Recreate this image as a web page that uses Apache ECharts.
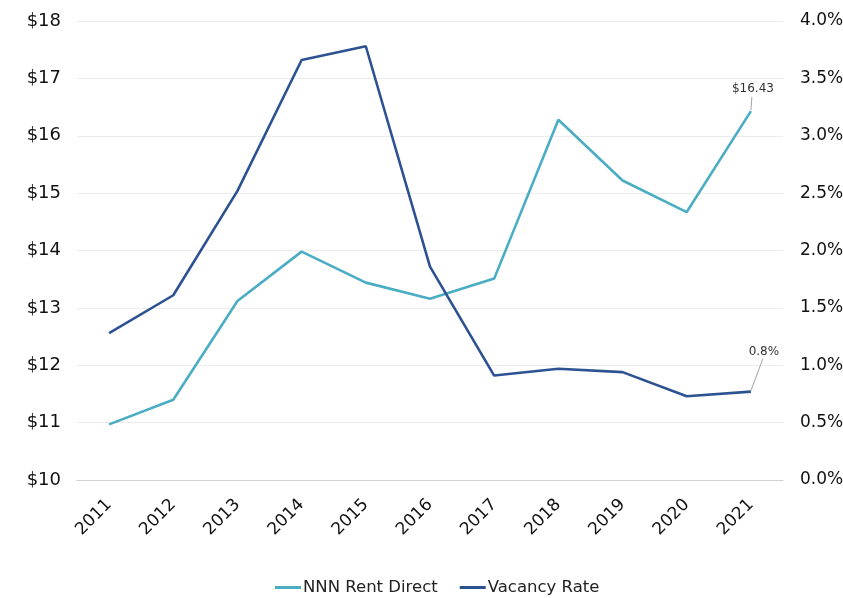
<!DOCTYPE html>
<html>
<head>
<meta charset="utf-8">
<script src="https://cdn.jsdelivr.net/npm/echarts@6/dist/echarts.min.js"></script>
<style>
  html, body { margin: 0; padding: 0; background: #fff; }
  #chart { width: 843px; height: 598px; }
</style>
</head>
<body>
<div id="chart"></div>
<script>
// Annual NNN direct rent ($/SF) and vacancy rate (%)
const years = ['2011', '2012', '2013', '2014', '2015', '2016', '2017', '2018', '2019', '2020', '2021'];
const rentDirect = [10.97, 11.40, 13.12, 13.98, 13.44, 13.16, 13.51, 16.28, 15.22, 14.67, 16.43];
const vacancyRate = [1.28, 1.61, 2.52, 3.66, 3.78, 1.86, 0.91, 0.97, 0.94, 0.73, 0.77];

const fontFamily = '"DejaVu Sans", "Liberation Sans", Arial, sans-serif';
const rentColor = '#4AADC4';
const vacancyColor = '#2C5292';
const lastIdx = years.length - 1;

const chart = echarts.init(document.getElementById('chart'), null, { renderer: 'canvas' });

chart.setOption({
  animation: false,
  textStyle: { fontFamily: fontFamily },
  grid: { left: 77, right: 60, top: 21, bottom: 118, containLabel: false, outerBoundsMode: 'none' },
  legend: {
    top: 574,
    left: 270,
    itemGap: 22,
    itemWidth: 26,
    itemHeight: 3,
    icon: 'rect',
    textStyle: { fontSize: 16.5, color: '#222', fontFamily: fontFamily, padding: [0, 0, 0, -3] },
    data: ['NNN Rent Direct', 'Vacancy Rate']
  },
  xAxis: {
    type: 'category',
    data: years,
    boundaryGap: true,
    axisLine: { show: true, lineStyle: { color: '#d0d0d0', width: 1 } },
    axisTick: { show: false },
    axisLabel: { rotate: 45, fontSize: 17, color: '#111', margin: 22 }
  },
  yAxis: [
    {
      type: 'value',
      min: 10, max: 18, interval: 1,
      axisLine: { show: false },
      axisTick: { show: false },
      splitLine: { lineStyle: { color: '#ececec', width: 1 } },
      axisLabel: { fontSize: 18, color: '#111', margin: 16, formatter: v => '$' + v }
    },
    {
      type: 'value',
      min: 0, max: 4, interval: 0.5,
      axisLine: { show: false },
      axisTick: { show: false },
      splitLine: { show: false },
      axisLabel: { fontSize: 17, color: '#111', margin: 17, formatter: v => v.toFixed(1) + '%' }
    }
  ],
  series: [
    {
      name: 'NNN Rent Direct',
      type: 'line',
      yAxisIndex: 0,
      data: rentDirect,
      symbol: 'none',
      lineStyle: { color: rentColor, width: 2.6 },
      itemStyle: { color: rentColor },
      emphasis: { disabled: true },
      z: 2
    },
    {
      name: 'Vacancy Rate',
      type: 'line',
      yAxisIndex: 1,
      data: vacancyRate,
      symbol: 'none',
      lineStyle: { color: vacancyColor, width: 2.6 },
      itemStyle: { color: vacancyColor },
      emphasis: { disabled: true },
      z: 3
    }
  ]
});

// Callout labels for the latest year, anchored at the plotted end points
const rentEnd = chart.convertToPixel({ gridIndex: 0, xAxisIndex: 0, yAxisIndex: 0 }, [lastIdx, rentDirect[lastIdx]]);
const vacEnd = chart.convertToPixel({ gridIndex: 0, xAxisIndex: 0, yAxisIndex: 1 }, [lastIdx, vacancyRate[lastIdx]]);

function callout(pt, text, dx, dy, gap) {
  return [
    {
      type: 'line',
      shape: { x1: pt[0], y1: pt[1] - 1, x2: pt[0] + dx, y2: pt[1] + dy },
      style: { stroke: '#8a8a8a', lineWidth: 0.8 },
      z: 10
    },
    {
      type: 'text',
      x: pt[0] + dx + 1,
      y: pt[1] + dy - gap,
      style: {
        text: text,
        fill: '#333',
        font: '12px ' + fontFamily,
        align: 'center',
        verticalAlign: 'bottom'
      },
      z: 10
    }
  ];
}

chart.setOption({
  graphic: [
    ...callout(rentEnd, '$' + rentDirect[lastIdx].toFixed(2), 1, -14, 2),
    ...callout(vacEnd, vacancyRate[lastIdx].toFixed(1) + '%', 12, -33, 1)
  ]
});
</script>
</body>
</html>
